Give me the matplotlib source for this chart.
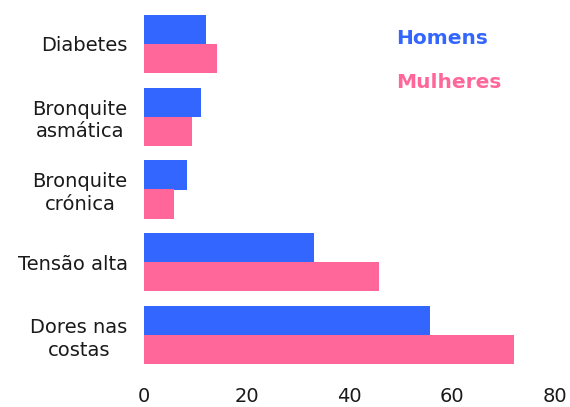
import matplotlib
matplotlib.use('Agg')
import matplotlib.pyplot as plt
import numpy as np

# Data (percentages)
categories = ['Diabetes', 'Bronquite\nasmática', 'Bronquite\ncrónica', 'Tensão alta', 'Dores nas\ncostas']
homens = [12.1, 11.2, 8.4, 33.1, 55.6]
mulheres = [14.3, 9.4, 5.9, 45.7, 71.9]
x_ticks = [0, 20, 40, 60, 80]

BLUE = '#3366FF'
PINK = '#FF6699'

W, H = 570, 407
fig = plt.figure(figsize=(W / 100, H / 100), dpi=100)
fig.patch.set_facecolor('white')

# axes placed in pixel terms
left, right = 143.5, 555.3
top, bottom = 7.5, 371.5
ax = fig.add_axes([left / W, 1 - bottom / H, (right - left) / W, (bottom - top) / H])

y = np.arange(len(categories))
bh = 0.4
ax.barh(y - bh / 2, homens, height=bh, color=BLUE)
ax.barh(y + bh / 2, mulheres, height=bh, color=PINK)

ax.set_xlim(0, 80)
ax.set_ylim(len(categories) - 0.5, -0.5)
ax.set_xticks(x_ticks)
ax.set_xticklabels([str(t) for t in x_ticks], fontsize=14, color='#1a1a1a')
ax.set_yticks(y)
ax.set_yticklabels(categories, fontsize=14, color='#1a1a1a', multialignment='center',
                   linespacing=1.25)
ax.tick_params(axis='x', length=0, pad=11)
ax.tick_params(axis='y', length=0, pad=11.5)
for s in ax.spines.values():
    s.set_visible(False)

# legend as plain text
fig.text(396 / W, 1 - 39 / H, 'Homens', color=BLUE, fontsize=14.5, fontweight='bold', va='center', ha='left')
fig.text(396 / W, 1 - 83 / H, 'Mulheres', color=PINK, fontsize=14.5, fontweight='bold', va='center', ha='left')

fig.savefig('out.png', dpi=100, facecolor='white')
